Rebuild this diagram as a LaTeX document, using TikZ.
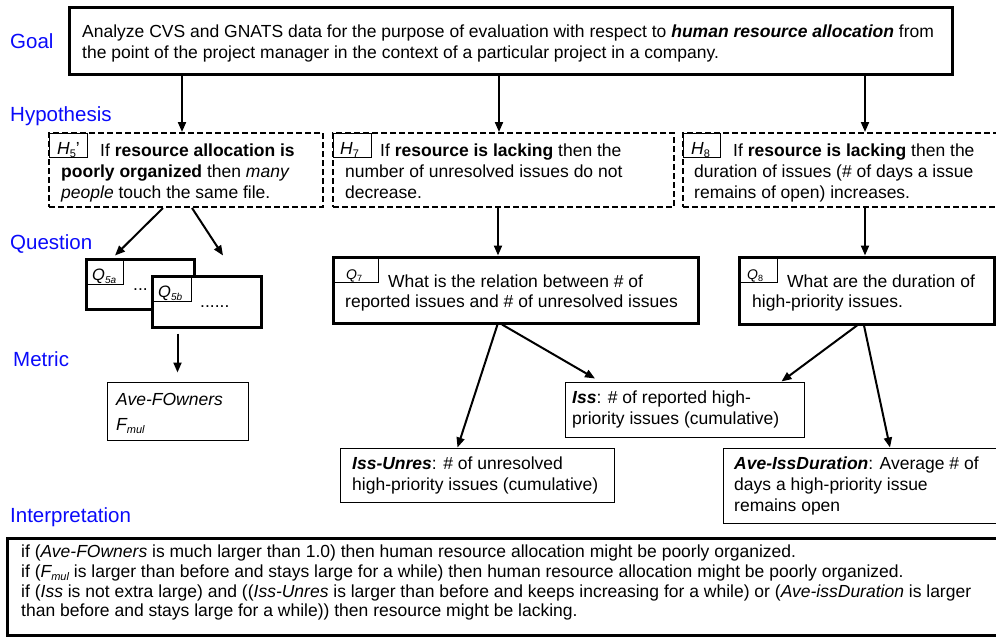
\documentclass[tikz,border=0pt]{standalone}
\usepackage{fontspec}
\setmainfont{Liberation Sans}
\usetikzlibrary{arrows.meta,fit}
\definecolor{headblue}{RGB}{10,10,250}
\newcommand\lowtxt[2][11]{\raisebox{-0.3\dimexpr #1pt\relax}{\fontsize{#1}{#1}\selectfont #2}}
\newcommand\bodyfont{\fontsize{17.5}{21}\selectfont}
\newcommand\headfont{\fontsize{20.5}{24}\selectfont}
\newcommand\tagfont{\fontsize{14}{14}\selectfont}
\newcommand\qtagfont{\fontsize{16.5}{16.5}\selectfont}

\begin{document}
\begin{tikzpicture}[x=1pt,y=-1pt,
  txt/.style={anchor=base west, inner sep=0pt, font=\bodyfont},
  head/.style={anchor=base west, inner sep=0pt, font=\headfont, text=headblue},
  heavybox/.style={draw, line width=3pt, inner sep=0pt},
  hypbox/.style={draw, line width=2pt, dash pattern=on 6pt off 3pt, inner sep=0pt},
  thinbox/.style={draw, line width=1pt, inner sep=0pt},
  tagbox/.style={draw, line width=0.8pt, inner sep=0pt},
  arr/.style={line width=2pt, -{Triangle[length=10pt,width=8pt]}},
]
\useasboundingbox (0,0) rectangle (996,637);
\clip (0,0) rectangle (996,637);

% level headings
\node[head] (lgoal) at (10,48) {Goal};
\node[head] (lhyp) at (10,121) {Hypothesis};
\node[head] (lques) at (10,249) {Question};
\node[head] (lmet) at (13,366) {Metric};
\node[head] (lint) at (10,522) {Interpretation};

% goal
\node[heavybox, fit={(69,7) (952,74)}] (goal) {};
\node[txt] (g1) at (82,37) {Analyze CVS and GNATS data for the purpose of evaluation with respect to \textbf{\textit{human resource allocation}} from};
\node[txt] (g2) at (82,58) {the point of the project manager in the context of a particular project in a company.};

% hypotheses
\node[hypbox, fit={(49,133) (323,207)}] (h5) {};
\node[tagbox, fit={(49,133) (87,157)}] (h5tag) {};
\node[txt] (h5lab) at (57,154) {\textit{H}\lowtxt{5}'};
\node[txt] (h5a) at (100,156) {If \textbf{resource allocation is}};
\node[txt] (h5b) at (61,177) {\textbf{poorly organized} then \textit{many}};
\node[txt] (h5c) at (61,198) {\textit{people} touch the same file.};

\node[hypbox, fit={(333,133) (674,207)}] (h7) {};
\node[tagbox, fit={(333,133) (371,157)}] (h7tag) {};
\node[txt] (h7lab) at (340,154) {\textit{H}\lowtxt{7}};
\node[txt] (h7a) at (380,156) {If \textbf{resource is lacking} then the};
\node[txt] (h7b) at (345,177) {number of unresolved issues do not};
\node[txt] (h7c) at (345,198) {decrease.};

\node[hypbox, fit={(683,133) (1047,207)}] (h8) {};
\node[tagbox, fit={(683,133) (720,157)}] (h8tag) {};
\node[txt] (h8lab) at (691,154) {\textit{H}\lowtxt{8}};
\node[txt] (h8a) at (733,156) {If \textbf{resource is lacking} then the};
\node[txt] (h8b) at (694,177) {duration of issues (\# of days a issue};
\node[txt] (h8c) at (694,198) {remains of open) increases.};

% questions
\node[heavybox, fit={(86,259) (194,309)}] (q5a) {};
\node[tagbox, fit={(86,259) (123,284)}] (q5atag) {};
\node[txt, font=\qtagfont] (q5alab) at (92,280) {\textit{Q\lowtxt[10]{5a}}};
\node[txt] (q5adots) at (133,290) {...};
\node[heavybox, fill=white, fit={(152,276) (261,327)}] (q5b) {};
\node[tagbox, fit={(152,276) (191,301)}] (q5btag) {};
\node[txt, font=\qtagfont] (q5blab) at (158,297) {\textit{Q\lowtxt[10]{5b}}};
\node[txt] (q5bdots) at (200,307) {......};

\node[heavybox, fit={(333,257) (698,323)}] (q7) {};
\node[tagbox, fit={(333,257) (378,282)}] (q7tag) {};
\node[txt, font=\tagfont] (q7lab) at (346,279) {\textit{Q}\lowtxt[9]{7}};
\node[txt] (q7a) at (388,287) {What is the relation between \# of};
\node[txt] (q7b) at (345,307) {reported issues and \# of unresolved issues};

\node[heavybox, fit={(739,257) (994,324)}] (q8) {};
\node[tagbox, fit={(739,257) (777,282)}] (q8tag) {};
\node[txt, font=\tagfont] (q8lab) at (747,279) {\textit{Q}\lowtxt[9]{8}};
\node[txt] (q8a) at (787,287) {What are the duration of};
\node[txt] (q8b) at (752,307) {high-priority issues.};

% metrics
\node[thinbox, fit={(107,382) (248,440)}] (afo) {};
\node[txt] (afoa) at (116,405) {\textit{Ave-FOwners}};
\node[txt] (afob) at (116,430) {\textit{F\lowtxt{mul}}};

\node[thinbox, fill=white, fit={(565,382) (804,437)}] (iss) {};
\node[txt] (issa) at (572,403) {\textbf{\textit{Iss}}: \# of reported high-};
\node[txt] (issb) at (572,424) {priority issues (cumulative)};

\node[thinbox, fit={(340,448) (614,502)}] (iu) {};
\node[txt] (iua) at (352,469) {\textbf{\textit{Iss-Unres}}: \# of unresolved};
\node[txt] (iub) at (352,490) {high-priority issues (cumulative)};

\node[thinbox, fit={(723,448) (1050,523)}] (aid) {};
\node[txt] (aida) at (734,469) {\textbf{\textit{Ave-IssDuration}}: Average \# of};
\node[txt] (aidb) at (734,490) {days a high-priority issue};
\node[txt] (aidc) at (734,511) {remains open};

% interpretation
\node[heavybox, fit={(7,538) (1050,635)}] (interp) {};
\node[txt] (in1) at (21,557) {if (\textit{Ave-FOwners} is much larger than 1.0) then human resource allocation might be poorly organized.};
\node[txt] (in2) at (21,577) {if (\textit{F\lowtxt{mul}} is larger than before and stays large for a while) then human resource allocation might be poorly organized.};
\node[txt] (in3) at (21,597) {if (\textit{Iss} is not extra large) and ((\textit{Iss-Unres} is larger than before and keeps increasing for a while) or (\textit{Ave-issDuration} is larger};
\node[txt] (in4) at (21,616) {than before and stays large for a while)) then resource might be lacking.};

% connectors
\draw[arr] ([xshift=-4pt]h5.north |- goal.south) -- ([xshift=-4pt]h5.north);
\draw[arr] ([xshift=-4.5pt]h7.north |- goal.south) -- ([xshift=-4.5pt]h7.north);
\draw[arr] (h8.north |- goal.south) -- (h8.north);
\draw[arr] ([xshift=-23pt]h5.south) -- ([xshift=-25pt,yshift=2pt]q5a.north);
\draw[arr] ([xshift=6pt]h5.south) -- ([xshift=16.5pt,yshift=19pt]q5b.north);
\draw[arr] ([yshift=-5pt]afo.north |- q5b.south) -- ([yshift=9pt]afo.north);
\draw[arr] ([xshift=-5.5pt]h7.south) -- ([xshift=-5.5pt]h7.south |- q7.north);
\draw[arr] (h8.south) -- (h8.south |- q8.north);
\draw[arr] ([xshift=-18pt]q7.south) -- ([xshift=-19.5pt]iu.north);
\draw[arr] ([xshift=-13.5pt]q7.south) -- ([xshift=-89.5pt,yshift=3pt]iss.north);
\draw[arr] ([xshift=-9.5pt]q8.south) -- ([xshift=97pt]iss.north);
\draw[arr] ([xshift=-2.5pt]q8.south) -- ([xshift=3.5pt]aid.north);
\end{tikzpicture}
\end{document}
